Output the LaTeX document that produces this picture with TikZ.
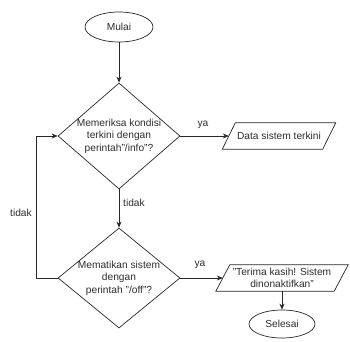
\documentclass[tikz,border=0pt]{standalone}
\usepackage{fontspec}
\setmainfont{Liberation Sans}
\usetikzlibrary{shapes.geometric,arrows.meta}
\definecolor{ink}{RGB}{40,40,40}
\definecolor{tx}{RGB}{45,45,45}
\tikzset{
  line/.style={draw=ink,line width=0.7pt},
  arr/.style={line,-{Stealth[length=6pt,width=5pt]}},
  txt/.style={text=tx,font=\fontsize{10.2}{12.5}\selectfont,align=center,inner sep=0pt},
  term/.style={line,ellipse,minimum width=68pt,minimum height=30pt,inner sep=0pt,text=tx,font=\fontsize{10.2}{12}\selectfont},
  dec/.style={line,diamond,minimum width=122pt,minimum height=106pt,inner sep=0pt},
  io/.style={rectangle,minimum height=26pt,inner sep=0pt}
}
\begin{document}
\begin{tikzpicture}[x=1pt,y=-1pt]
\useasboundingbox (0,0) rectangle (350,341);
\node[term] (start) at (119,27) {Mulai};
\node[dec] (d1) at (119,136) {};
\node[txt] (d1t) at (d1) {Memeriksa kondisi\\terkini dengan\\perintah"/info"?};
\node[io,minimum width=100pt] (p1) at (279,136) {};
\draw[line] ([xshift=6.5pt]p1.north west) -- ([xshift=6.5pt]p1.north east) -- ([xshift=-6.5pt]p1.south east) -- ([xshift=-6.5pt]p1.south west) -- cycle;
\node[txt] (p1t) at (p1) {Data sistem terkini};
\node[dec,minimum height=100pt] (d2) at (119,278) {};
\node[txt] (d2t) at (d2) {Mematikan sistem\\dengan\\perintah "/off"?};
\node[io,minimum width=118pt] (p2) at (282,278) {};
\draw[line] ([xshift=7pt]p2.north west) -- ([xshift=7pt]p2.north east) -- ([xshift=-7pt]p2.south east) -- ([xshift=-7pt]p2.south west) -- cycle;
\node[txt] (p2t) at (p2) {"Terima kasih! Sistem\\dinonaktifkan"};
\node[term,minimum width=66pt,minimum height=28pt] (end) at (282,324) {Selesai};

\draw[arr] (start) -- (d1.north);
\draw[arr] (d1.east) -- (p1.west);
\draw[arr] (d1.south) -- (d2.north);
\draw[arr] (d2.east) -- (p2.west);
\draw[arr] (p2.south) -- (end.north);
\draw[arr] (d2.west) -- ++(-21,0) |- (d1.west);

\node[txt,anchor=west] (l1) at (123,203) {tidak};
\node[txt] (l2) at (21,213) {tidak};
\node[txt] (l3) at (203,125) {ya};
\node[txt] (l4) at (200,265) {ya};
\end{tikzpicture}
\end{document}
